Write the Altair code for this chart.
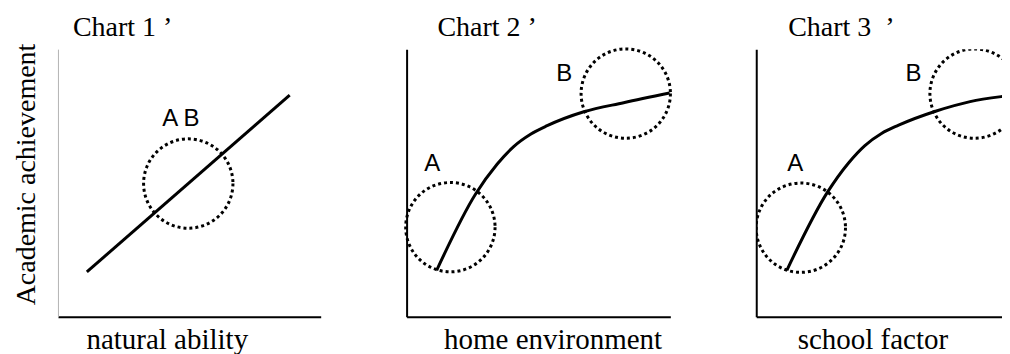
import altair as alt
import pandas as pd

TITLES = ["Chart 1 \u2019", "Chart 2 \u2019", "Chart 3\u00a0\u00a0\u2019"]
TITLE_X = [0.57, 1.17, 1.21]
TITLE_Y = [10.49, 10.49, 10.49]
X_TITLES = ["natural ability", "home environment", "school factor"]
Y_TITLE = "Academic achievement"

# curves (x, y on a 0-10 schematic scale)
p1_x = [1.10, 8.82]
p1_y = [1.68, 8.28]
p2_x = [1.14, 2.61, 3.43, 4.06, 4.70, 5.33, 6.72, 8.23, 9.97]
p2_y = [1.74, 4.58, 5.70, 6.36, 6.82, 7.14, 7.66, 8.00, 8.36]
p3_x = [1.16, 2.69, 3.50, 4.12, 4.75, 5.40, 6.80, 8.11, 9.62, 10.0]
p3_y = [1.74, 4.64, 5.75, 6.40, 6.85, 7.16, 7.68, 8.04, 8.27, 8.32]

# dotted circles (centres)
c1_x, c1_y = [4.96], [4.98]
c2_x, c2_y = [1.66, 8.31], [3.35, 8.34]
c3_x, c3_y = [1.69, 8.28], [3.33, 8.34]

# labels
l1_x, l1_y, l1_t = [4.68], [7.39], ["A B"]
l2_x, l2_y, l2_t = [0.97, 5.98], [5.70, 9.06], ["A", "B"]
l3_x, l3_y, l3_t = [1.48, 5.96], [5.70, 9.06], ["A", "B"]

SERIF = "Liberation Serif"
SANS = "Liberation Sans"
H = 268


def panel(i, lx, ly, cx, cy, tx, ty, tt, width, xmax, ycolor, ywidth, show_ytitle, xtitle_x, clip):
    xenc = alt.X(
        "x:Q",
        scale=alt.Scale(domain=[0, xmax], nice=False, zero=False),
        axis=alt.Axis(
            title=X_TITLES[i], ticks=False, labels=False, grid=False,
            domainColor="black", domainWidth=2,
            titleFont=SERIF, titleFontSize=29, titleFontWeight="normal", titleColor="black",
            titleX=xtitle_x, titleY=9, titleAlign="left", titleBaseline="top",
        ),
    )
    yaxis_kw = dict(
        ticks=False, labels=False, grid=False,
        domainColor=ycolor, domainWidth=ywidth,
    )
    if show_ytitle:
        yaxis_kw.update(
            title=Y_TITLE, titleFont=SERIF, titleFontSize=28, titleFontWeight="normal",
            titleColor="black", titleX=-17, titleY=125, titleAngle=270,
            titleAlign="center", titleBaseline="bottom",
        )
    else:
        yaxis_kw.update(title="")
    yenc = alt.Y("y:Q", scale=alt.Scale(domain=[0, 10], nice=False, zero=False),
                 axis=alt.Axis(**yaxis_kw))

    line = alt.Chart(pd.DataFrame({"x": lx, "y": ly})).mark_line(
        color="black", strokeWidth=3, interpolate="monotone", clip=clip
    ).encode(x=xenc, y=yenc)
    circ = alt.Chart(pd.DataFrame({"x": cx, "y": cy})).mark_point(
        shape="circle", size=8000, filled=False, color="black",
        strokeWidth=3, strokeDash=[3, 3], opacity=1, clip=clip
    ).encode(x=xenc, y=yenc)
    lab = alt.Chart(pd.DataFrame({"x": tx, "y": ty, "t": tt})).mark_text(
        font=SANS, fontSize=24, color="black", align="center", baseline="middle"
    ).encode(x=xenc, y=yenc, text="t:N")
    ttl = alt.Chart(pd.DataFrame({"x": [TITLE_X[i]], "y": [TITLE_Y[i]], "t": [TITLES[i]]})).mark_text(
        font=SERIF, fontSize=28, color="black", align="left", baseline="alphabetic"
    ).encode(x=xenc, y=yenc, text="t:N")
    return alt.layer(line, circ, lab, ttl).properties(width=width, height=H)


p1 = panel(0, p1_x, p1_y, c1_x, c1_y, l1_x, l1_y, l1_t, 263, 10, "#b3b3b3", 1, True, 28, False)
p2 = panel(1, p2_x, p2_y, c2_x, c2_y, l2_x, l2_y, l2_t, 264, 10, "black", 2, False, 37, False)
p3 = panel(2, p3_x, p3_y, c3_x, c3_y, l3_x, l3_y, l3_t, 246, 9.32, "black", 2, False, 41, True)

chart = alt.hconcat(p1, p2, p3, spacing=86, bounds="flush").properties(
    padding={"left": 4, "top": 5, "right": 0, "bottom": 0}
).configure_view(strokeWidth=0)

chart.save("out.html", embed_options={"renderer": "svg", "actions": False})
